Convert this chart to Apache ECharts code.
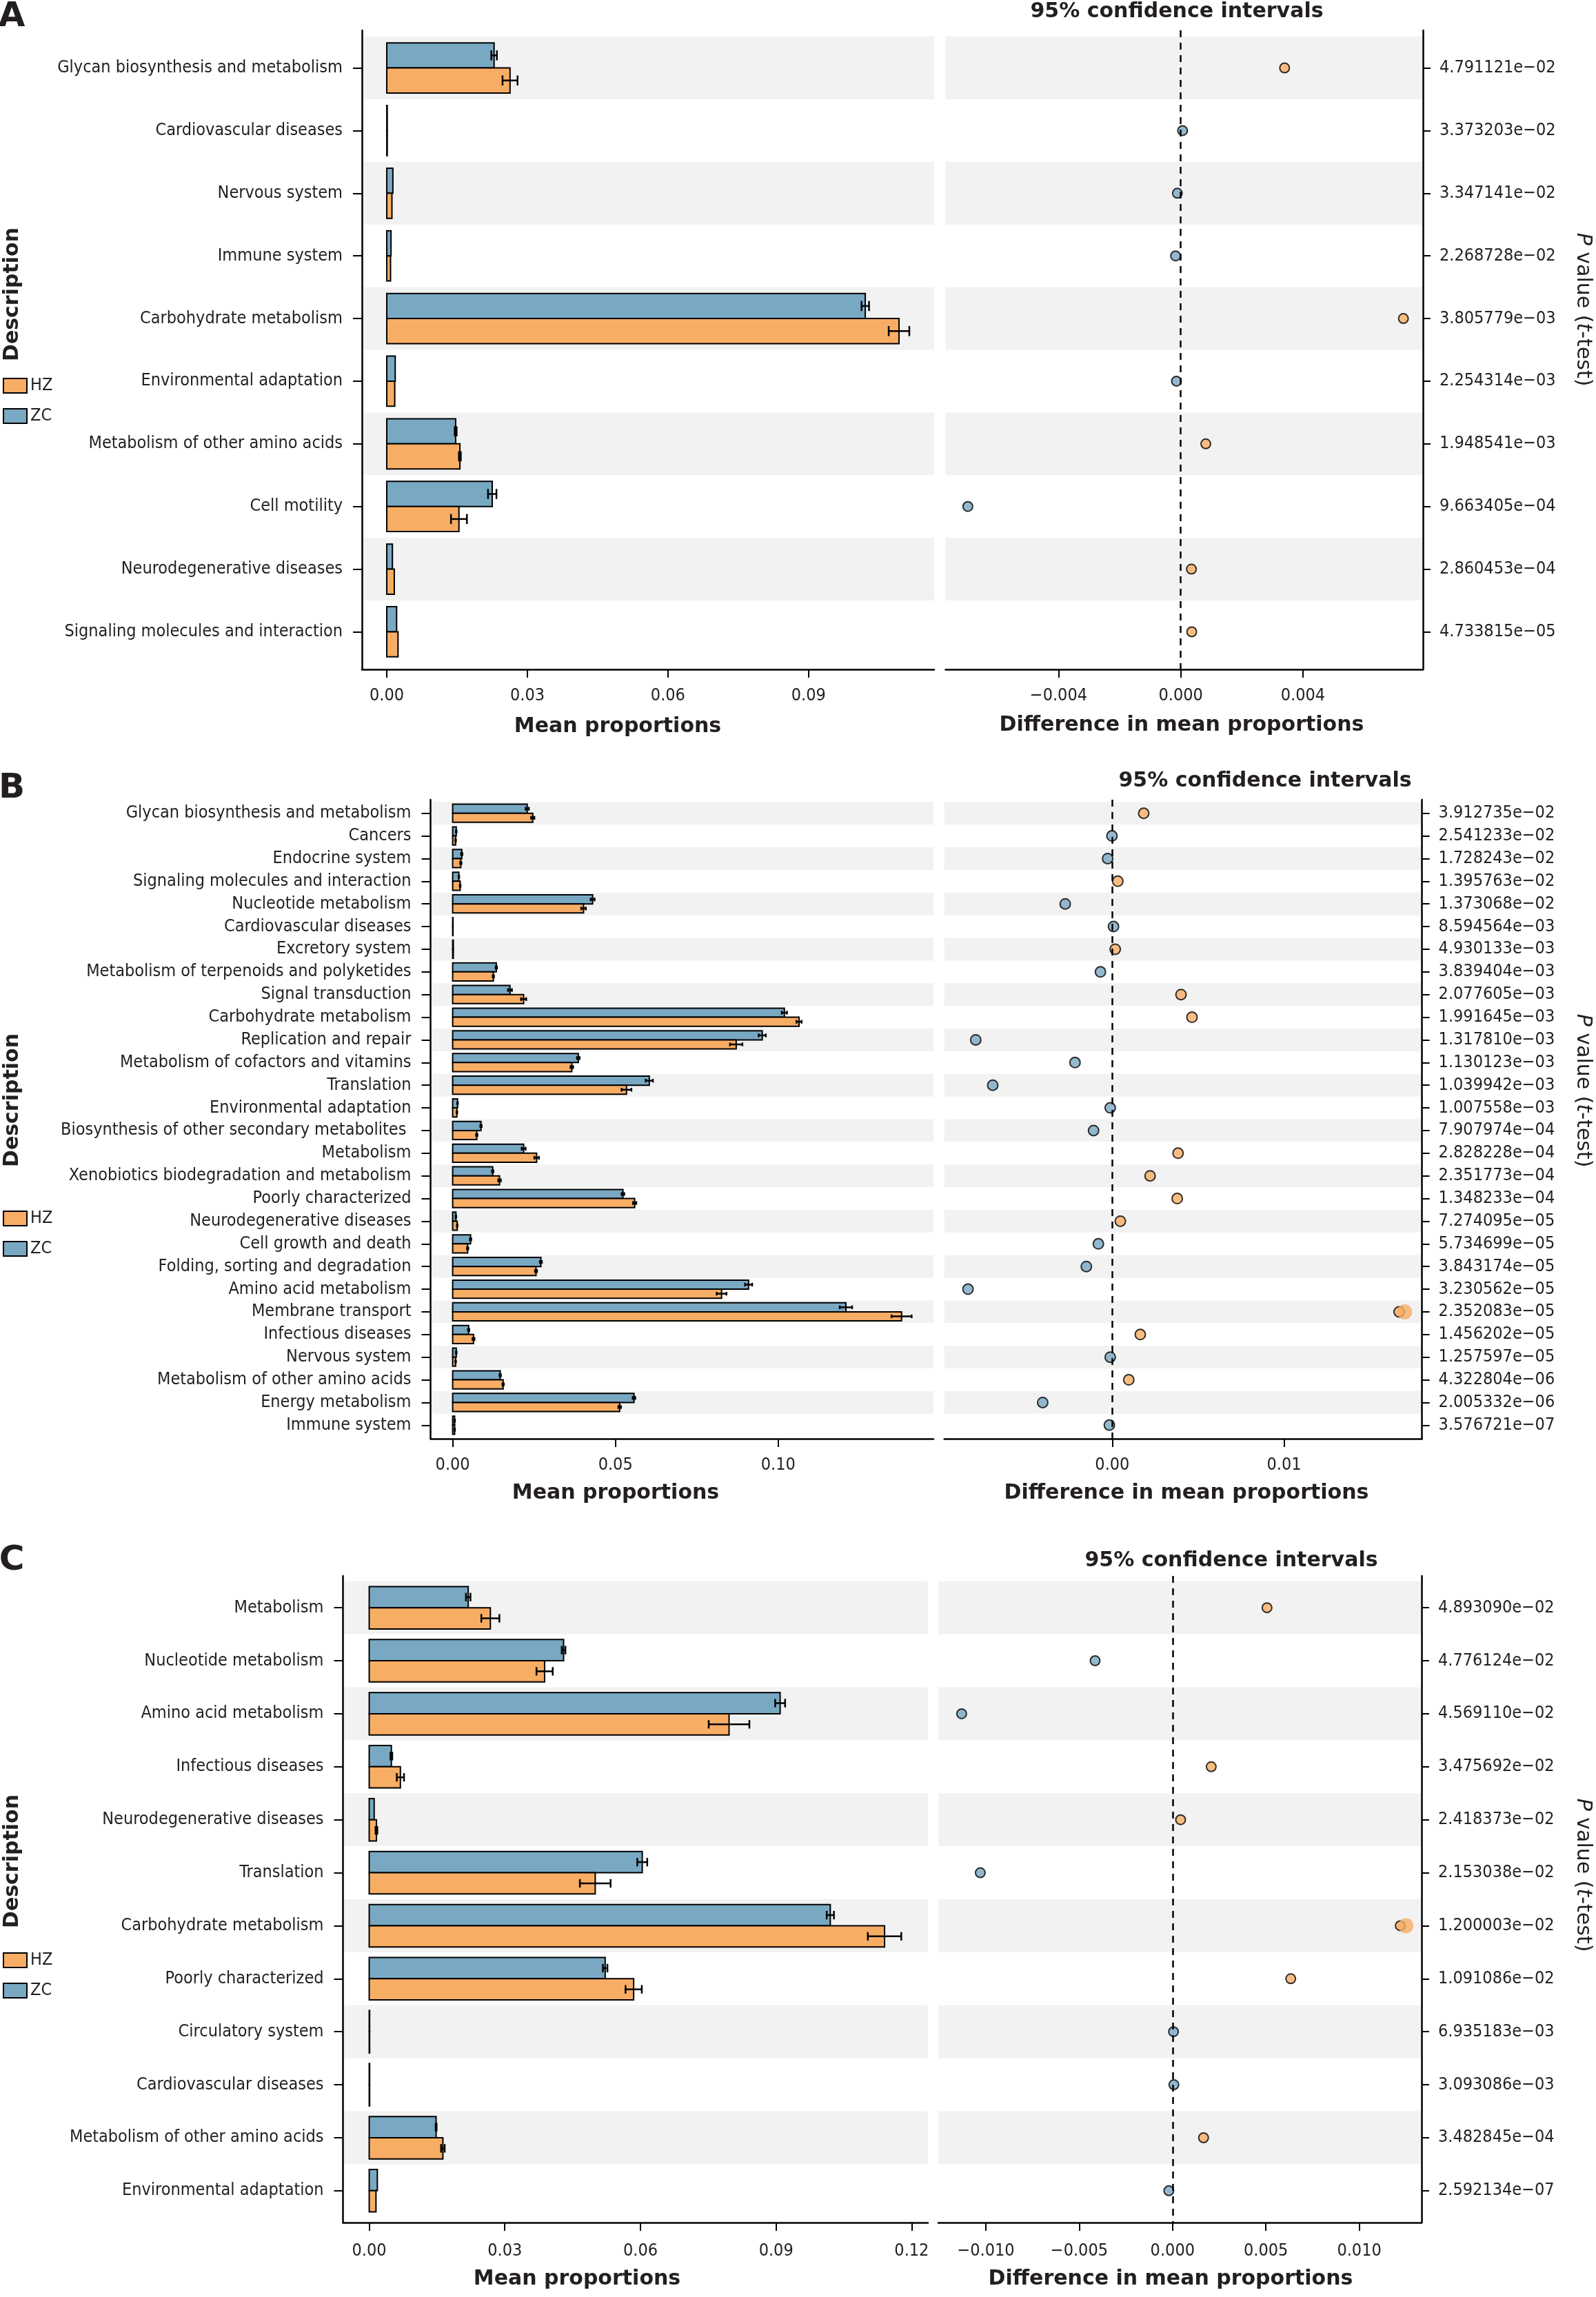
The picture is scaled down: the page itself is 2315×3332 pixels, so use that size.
<!DOCTYPE html>
<html><head><meta charset="utf-8">
<script src="https://cdn.jsdelivr.net/npm/echarts@6/dist/echarts.min.js"></script>
<style>html,body{margin:0;padding:0;background:#fff}#c{width:2315px;height:3332px}</style>
</head><body><div id="c"></div><script>
// ---------------- DATA ----------------
const A_categories = ['Glycan biosynthesis and metabolism','Cardiovascular diseases','Nervous system','Immune system','Carbohydrate metabolism','Environmental adaptation','Metabolism of other amino acids','Cell motility','Neurodegenerative diseases','Signaling molecules and interaction'];
const A_zcMean = [0.0229,0.0001,0.0013,0.0009,0.1021,0.0018,0.0147,0.0225,0.0012,0.0021];
const A_zcErr  = [0.0006,0,0,0,0.0008,0,0.0002,0.0009,0,0];
const A_hzMean = [0.0263,0.0001,0.0011,0.0008,0.1093,0.0017,0.0156,0.0154,0.0016,0.0024];
const A_hzErr  = [0.0016,0,0,0,0.0022,0,0.0002,0.0017,0,0];
const A_diff   = [0.0034,0.00006,-0.00011,-0.00017,0.00729,-0.00014,0.00082,-0.00697,0.00035,0.00036];
const A_enriched = ['HZ','ZC','ZC','ZC','HZ','ZC','HZ','ZC','HZ','HZ'];
const A_blobRows = [];
const A_pvalues = ['4.791121e\u221202','3.373203e\u221202','3.347141e\u221202','2.268728e\u221202','3.805779e\u221203','2.254314e\u221203','1.948541e\u221203','9.663405e\u221204','2.860453e\u221204','4.733815e\u221205'];
const A_meanTicks = [0,0.03,0.06,0.09];
const A_meanTickLabels = ['0.00','0.03','0.06','0.09'];
const A_diffTicks = [-0.004,0,0.004];
const A_diffTickLabels = ['\u22120.004','0.000','0.004'];

const B_categories = ['Glycan biosynthesis and metabolism','Cancers','Endocrine system','Signaling molecules and interaction','Nucleotide metabolism','Cardiovascular diseases','Excretory system','Metabolism of terpenoids and polyketides','Signal transduction','Carbohydrate metabolism','Replication and repair','Metabolism of cofactors and vitamins','Translation','Environmental adaptation','Biosynthesis of other secondary metabolites ','Metabolism','Xenobiotics biodegradation and metabolism','Poorly characterized','Neurodegenerative diseases','Cell growth and death','Folding, sorting and degradation','Amino acid metabolism','Membrane transport','Infectious diseases','Nervous system','Metabolism of other amino acids','Energy metabolism','Immune system'];
const B_zcMean = [0.0229,0.0011,0.0028,0.0019,0.0430,0.0001,0.0002,0.0134,0.0176,0.1019,0.0951,0.0386,0.0604,0.0015,0.0087,0.0218,0.0123,0.0523,0.0010,0.0055,0.0271,0.0909,0.1208,0.0049,0.0011,0.0146,0.0557,0.0006];
const B_zcErr  = [0.0005,0.0001,0.0002,0.0001,0.0006,0,0,0.0002,0.0006,0.0008,0.0011,0.0004,0.0011,0.0001,0.0002,0.0006,0.0002,0.0004,0.0001,0.0002,0.0003,0.0011,0.0019,0.0002,0.0001,0.0002,0.0004,0.0001];
const B_hzMean = [0.0246,0.0009,0.0025,0.0023,0.0402,0.0001,0.0002,0.0125,0.0218,0.1064,0.0871,0.0366,0.0534,0.0013,0.0074,0.0258,0.0144,0.0559,0.0014,0.0046,0.0256,0.0826,0.1379,0.0064,0.0009,0.0155,0.0513,0.0006];
const B_hzErr  = [0.0005,0.0001,0.0002,0.0001,0.0007,0,0,0.0002,0.0008,0.0008,0.0019,0.0004,0.0015,0.0001,0.0002,0.0007,0.0004,0.0005,0.0001,0.0002,0.0003,0.0015,0.0031,0.0003,0.0001,0.0002,0.0004,0.0001];
const B_diff   = [0.00183,-0.00002,-0.00027,0.00032,-0.00274,0.00007,0.00017,-0.00069,0.0040,0.00464,-0.00795,-0.00217,-0.00696,-0.00012,-0.00109,0.00383,0.0022,0.00378,0.00047,-0.00081,-0.00151,-0.0084,0.0167,0.00163,-0.00012,0.00096,-0.00405,-0.00017];
const B_enriched = ['HZ','ZC','ZC','HZ','ZC','ZC','HZ','ZC','HZ','HZ','ZC','ZC','ZC','ZC','ZC','HZ','HZ','HZ','HZ','ZC','ZC','ZC','HZ','HZ','ZC','HZ','ZC','ZC'];
const B_blobRows = [22];
const B_pvalues = ['3.912735e\u221202','2.541233e\u221202','1.728243e\u221202','1.395763e\u221202','1.373068e\u221202','8.594564e\u221203','4.930133e\u221203','3.839404e\u221203','2.077605e\u221203','1.991645e\u221203','1.317810e\u221203','1.130123e\u221203','1.039942e\u221203','1.007558e\u221203','7.907974e\u221204','2.828228e\u221204','2.351773e\u221204','1.348233e\u221204','7.274095e\u221205','5.734699e\u221205','3.843174e\u221205','3.230562e\u221205','2.352083e\u221205','1.456202e\u221205','1.257597e\u221205','4.322804e\u221206','2.005332e\u221206','3.576721e\u221207'];
const B_meanTicks = [0,0.05,0.10];
const B_meanTickLabels = ['0.00','0.05','0.10'];
const B_diffTicks = [0,0.01];
const B_diffTickLabels = ['0.00','0.01'];

const C_categories = ['Metabolism','Nucleotide metabolism','Amino acid metabolism','Infectious diseases','Neurodegenerative diseases','Translation','Carbohydrate metabolism','Poorly characterized','Circulatory system','Cardiovascular diseases','Metabolism of other amino acids','Environmental adaptation'];
const C_zcMean = [0.0219,0.0430,0.0909,0.0049,0.0011,0.0604,0.1020,0.0522,0.0001,0.0001,0.0148,0.0018];
const C_zcErr  = [0.0005,0.0004,0.0011,0.0002,0,0.0011,0.0008,0.0005,0,0,0.0001,0];
const C_hzMean = [0.0268,0.0388,0.0796,0.0069,0.0016,0.0500,0.1140,0.0585,0.0001,0.0001,0.0163,0.0015];
const C_hzErr  = [0.0020,0.0018,0.0045,0.0008,0.0002,0.0034,0.0037,0.0018,0,0,0.0004,0];
const C_diff   = [0.00506,-0.00415,-0.0113,0.00207,0.00043,-0.0103,0.0122,0.00633,0.00005,0.00007,0.00166,-0.0002];
const C_enriched = ['HZ','ZC','ZC','HZ','HZ','ZC','HZ','HZ','ZC','ZC','HZ','ZC'];
const C_blobRows = [6];
const C_pvalues = ['4.893090e\u221202','4.776124e\u221202','4.569110e\u221202','3.475692e\u221202','2.418373e\u221202','2.153038e\u221202','1.200003e\u221202','1.091086e\u221202','6.935183e\u221203','3.093086e\u221203','3.482845e\u221204','2.592134e\u221207'];
const C_meanTicks = [0,0.03,0.06,0.09,0.12];
const C_meanTickLabels = ['0.00','0.03','0.06','0.09','0.12'];
const C_diffTicks = [-0.010,-0.005,0,0.005,0.010];
const C_diffTickLabels = ['\u22120.010','\u22120.005','0.000','0.005','0.010'];

// ---------------- STYLE / LAYOUT ----------------
const ORANGE = '#F8AD65', BLUE = '#79A8C3', BAND = '#F2F2F2', INK = '#231F20';
const REG = "'DejaVu Sans Condensed','DejaVu Sans',sans-serif";
const BOLD = "'DejaVu Sans',sans-serif";

const panels = [
  {letter:'A', cats:A_categories, zcM:A_zcMean, zcE:A_zcErr, hzM:A_hzMean, hzE:A_hzErr, diff:A_diff, enr:A_enriched, blob:A_blobRows, pv:A_pvalues,
   mT:A_meanTicks, mL:A_meanTickLabels, dT:A_diffTicks, dL:A_diffTickLabels,
   top:44, height:927, L:{x:525, w:830, min:-0.0053, max:0.1168}, R:{x:1371.5, w:692.5, min:-0.0077, max:0.00793},
   labelMargin:26, sym:14,
   txt:{letter:[17,25], t95:[1707,17], mean:[896,1054], dif:[1714,1052], desc:[18,427], pval:[2296,449], leg:547}},
  {letter:'B', cats:B_categories, zcM:B_zcMean, zcE:B_zcErr, hzM:B_hzMean, hzE:B_hzErr, diff:B_diff, enr:B_enriched, blob:B_blobRows, pv:B_pvalues,
   mT:B_meanTicks, mL:B_meanTickLabels, dT:B_diffTicks, dL:B_diffTickLabels,
   top:1160, height:927, L:{x:624.5, w:729.5, min:-0.0068, max:0.1477}, R:{x:1369.7, w:692.9, min:-0.00978, max:0.01803},
   labelMargin:26, sym:15,
   txt:{letter:[17,1144], t95:[1835,1133], mean:[893,2166], dif:[1721,2166], desc:[18,1596], pval:[2296,1582], leg:1755}},
  {letter:'C', cats:C_categories, zcM:C_zcMean, zcE:C_zcErr, hzM:C_hzMean, hzE:C_hzErr, diff:C_diff, enr:C_enriched, blob:C_blobRows, pv:C_pvalues,
   mT:C_meanTicks, mL:C_meanTickLabels, dT:C_diffTicks, dL:C_diffTickLabels,
   top:2286, height:938, L:{x:497.5, w:848.5, min:-0.0058, max:0.1236}, R:{x:1361, w:701, min:-0.01255, max:0.01334},
   labelMargin:29, sym:14,
   txt:{letter:[17,2264], t95:[1786,2264], mean:[837,3306], dif:[1698,3306], desc:[18,2700], pval:[2296,2720], leg:2831}}
];

function pick(ticks, labels){
  return v => { for (let i=0;i<ticks.length;i++) if (Math.abs(ticks[i]-v) < 1e-9) return labels[i]; return ''; };
}

function barRender(kind, color){
  return function(params, api){
    const row = api.value(0), mean = api.value(1), err = api.value(2);
    const c = api.coord([0,row]);
    const e = api.coord([mean,row]);
    const h = Math.abs(api.size([0,1])[1]);
    const bh = 0.4*h;
    const y0 = kind === 'ZC' ? c[1]-bh : c[1];
    const ch = [{type:'rect', shape:{x:c[0], y:y0, width:e[0]-c[0], height:bh}, style:{fill:color, stroke:'#000', lineWidth:2}}];
    if (err > 0){
      const lo = api.coord([mean-err,row])[0], hi = api.coord([mean+err,row])[0];
      const ym = y0 + bh/2, cap = bh*0.2;
      const st = {stroke:'#000', lineWidth:2.5};
      ch.push({type:'line', shape:{x1:lo,y1:ym,x2:hi,y2:ym}, style:st});
      ch.push({type:'line', shape:{x1:lo,y1:ym-cap,x2:lo,y2:ym+cap}, style:st});
      ch.push({type:'line', shape:{x1:hi,y1:ym-cap,x2:hi,y2:ym+cap}, style:st});
    }
    return {type:'group', children:ch};
  };
}
function bandRender(params, api){
  const row = api.value(1);
  const cs = params.coordSys;
  const a = api.coord([0,row-0.5])[1], b = api.coord([0,row+0.5])[1];
  return {type:'rect', shape:{x:cs.x, y:Math.min(a,b), width:cs.width, height:Math.abs(b-a)}, style:{fill:BAND}};
}

const grid=[], xAxis=[], yAxis=[], series=[], legend=[], graphic=[];
panels.forEach((p, k) => {
  const n = p.cats.length;
  const idx = p.cats.map((_, i) => i);
  const gl = 2*k, gr = 2*k+1;
  grid.push({left:p.L.x, top:p.top, width:p.L.w, height:p.height});
  grid.push({left:p.R.x, top:p.top, width:p.R.w, height:p.height});
  const lab = {fontSize:25, fontFamily:REG, color:INK};
  const axLine = {show:true, onZero:false, lineStyle:{color:'#000', width:2.5}};
  xAxis.push({gridIndex:gl, type:'value', min:p.L.min, max:p.L.max, axisLine:axLine,
    axisTick:{show:true, length:12, lineStyle:{color:'#000', width:2}, customValues:p.mT},
    axisLabel:Object.assign({customValues:p.mT, formatter:pick(p.mT,p.mL), margin:p.labelMargin}, lab), splitLine:{show:false}});
  xAxis.push({gridIndex:gr, type:'value', min:p.R.min, max:p.R.max, axisLine:axLine,
    axisTick:{show:true, length:12, lineStyle:{color:'#000', width:2}, customValues:p.dT},
    axisLabel:Object.assign({customValues:p.dT, formatter:pick(p.dT,p.dL), margin:p.labelMargin}, lab), splitLine:{show:false}});
  yAxis.push({gridIndex:gl, type:'value', inverse:true, min:-0.6, max:n-0.4, position:'left', axisLine:axLine,
    axisTick:{show:true, length:13, lineStyle:{color:'#000', width:2}, customValues:idx},
    axisLabel:Object.assign({customValues:idx, formatter:v => p.cats[Math.round(v)], margin:28}, lab), splitLine:{show:false}});
  yAxis.push({gridIndex:gr, type:'value', inverse:true, min:-0.6, max:n-0.4, position:'right', axisLine:axLine,
    axisTick:{show:true, length:11, lineStyle:{color:'#000', width:2}, customValues:idx},
    axisLabel:Object.assign({customValues:idx, formatter:v => p.pv[Math.round(v)], margin:24}, lab), splitLine:{show:false}});

  const bands = idx.filter(i => i % 2 === 0).map(i => [0,i]);
  [gl, gr].forEach(g => series.push({type:'custom', xAxisIndex:g, yAxisIndex:g, z:-1, silent:true,
    renderItem:bandRender, encode:{x:0, y:1}, data:bands}));
  series.push({type:'custom', name:'ZC', xAxisIndex:gl, yAxisIndex:gl, z:2, itemStyle:{color:BLUE, borderColor:'#000'},
    renderItem:barRender('ZC', BLUE), encode:{x:1, y:0}, data:idx.map(i => [i, p.zcM[i], p.zcE[i]])});
  series.push({type:'custom', name:'HZ', xAxisIndex:gl, yAxisIndex:gl, z:2, itemStyle:{color:ORANGE, borderColor:'#000'},
    renderItem:barRender('HZ', ORANGE), encode:{x:1, y:0}, data:idx.map(i => [i, p.hzM[i], p.hzE[i]])});
  series.push({type:'scatter', xAxisIndex:gr, yAxisIndex:gr, z:3, symbolSize:p.sym,
    data:p.diff.map((d,i) => ({value:[d,i], itemStyle:{color: p.enr[i] === 'HZ' ? ORANGE : BLUE, borderColor:'#000', borderWidth:2}})),
    markLine:{silent:true, symbol:['none','none'], label:{show:false}, lineStyle:{color:'#000', type:[10,8], width:2.5}, data:[{xAxis:0}]}});
  if (p.blob.length){
    series.push({type:'scatter', xAxisIndex:gr, yAxisIndex:gr, z:4, symbolSize:22, symbolOffset:[8,0], silent:true,
      data:p.blob.map(i => ({value:[p.diff[i], i], itemStyle:{color: p.enr[i] === 'HZ' ? ORANGE : BLUE, borderWidth:0}}))});
  }

  legend.push({orient:'vertical', left:4, top:p.txt.leg, padding:0, itemWidth:34, itemHeight:21, itemGap:19, icon:'rect',
    selectedMode:false, data:['HZ','ZC'], itemStyle:{borderColor:'#000', borderWidth:2},
    textStyle:{fontSize:25, fontFamily:REG, color:INK}});

  const T = p.txt;
  const txt = (pos, text, font, extra) => Object.assign({type:'text', x:pos[0], y:pos[1], silent:true,
    style:{text, font, fill:INK, textAlign:'center', textVerticalAlign:'middle'}}, extra || {});
  graphic.push(txt(T.letter, p.letter, 'bold 50px ' + BOLD));
  graphic.push(txt(T.t95, '95% confidence intervals', 'bold 30px ' + BOLD));
  graphic.push(txt(T.mean, 'Mean proportions', 'bold 30px ' + BOLD));
  graphic.push(txt(T.dif, 'Difference in mean proportions', 'bold 30px ' + BOLD));
  graphic.push(txt(T.desc, 'Description', 'bold 30px ' + BOLD, {rotation:Math.PI/2}));
  graphic.push({type:'text', x:T.pval[0], y:T.pval[1], rotation:-Math.PI/2, silent:true,
    style:{text:'{i|P} value ({i|t}-test)', font:'30px ' + BOLD, fill:INK, textAlign:'center', textVerticalAlign:'middle',
      rich:{i:{fontStyle:'italic', fontSize:30, fontFamily:BOLD, fill:INK, color:INK}}}});
});

const chart = echarts.init(document.getElementById('c'), null, {renderer:'canvas'});
chart.setOption({animation:false, backgroundColor:'#fff', grid, xAxis, yAxis, series, legend, graphic});
</script></body></html>
